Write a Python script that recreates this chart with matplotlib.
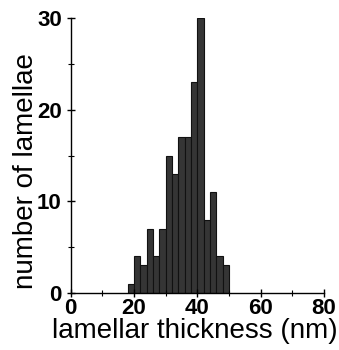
import matplotlib
matplotlib.use("Agg")
import matplotlib.pyplot as plt
from matplotlib.ticker import MultipleLocator

# Histogram of lamellar thickness, 2 nm bins from 18 to 50 nm
bin_edges = [18, 20, 22, 24, 26, 28, 30, 32, 34, 36, 38, 40, 42, 44, 46, 48, 50]
counts = [1, 4, 3, 7, 4, 7, 15, 13, 17, 17, 23, 30, 8, 11, 4, 3]
x_ticks = [0, 20, 40, 60, 80]
y_ticks = [0, 10, 20, 30]

plt.rcParams["font.family"] = ["Liberation Sans", "DejaVu Sans"]

fig = plt.figure(figsize=(3.39, 3.50), dpi=100)
ax = fig.add_axes([0.2086, 0.1637, 0.7474, 0.784])

lefts = bin_edges[:-1]
widths = [b - a for a, b in zip(bin_edges[:-1], bin_edges[1:])]
ax.bar(lefts, counts, width=widths, align="edge", color="#353535",
       edgecolor="#111111", linewidth=0.8)

ax.set_xlim(0, 80)
ax.set_ylim(0, 30)
ax.set_xticks(x_ticks)
ax.set_yticks(y_ticks)
ax.xaxis.set_minor_locator(MultipleLocator(10))
ax.yaxis.set_minor_locator(MultipleLocator(5))

for side in ("top", "right"):
    ax.spines[side].set_visible(False)
for side in ("left", "bottom"):
    ax.spines[side].set_linewidth(1.0)

ax.tick_params(which="major", direction="inout", length=6, width=1.0,
               labelsize=16)
ax.tick_params(which="minor", direction="inout", length=4, width=0.8)
ax.tick_params(axis="x", which="major", pad=1)
ax.tick_params(axis="y", which="major", pad=3.5)
for lab in ax.get_xticklabels() + ax.get_yticklabels():
    lab.set_fontweight("bold")

ax.set_xlabel("lamellar thickness (nm)", fontsize=20)
ax.set_ylabel("number of lamellae", fontsize=20)
ax.xaxis.set_label_coords(0.491, -0.092)
ax.yaxis.set_label_coords(-0.126, 0.4435)

fig.savefig("out.png", dpi=100)
